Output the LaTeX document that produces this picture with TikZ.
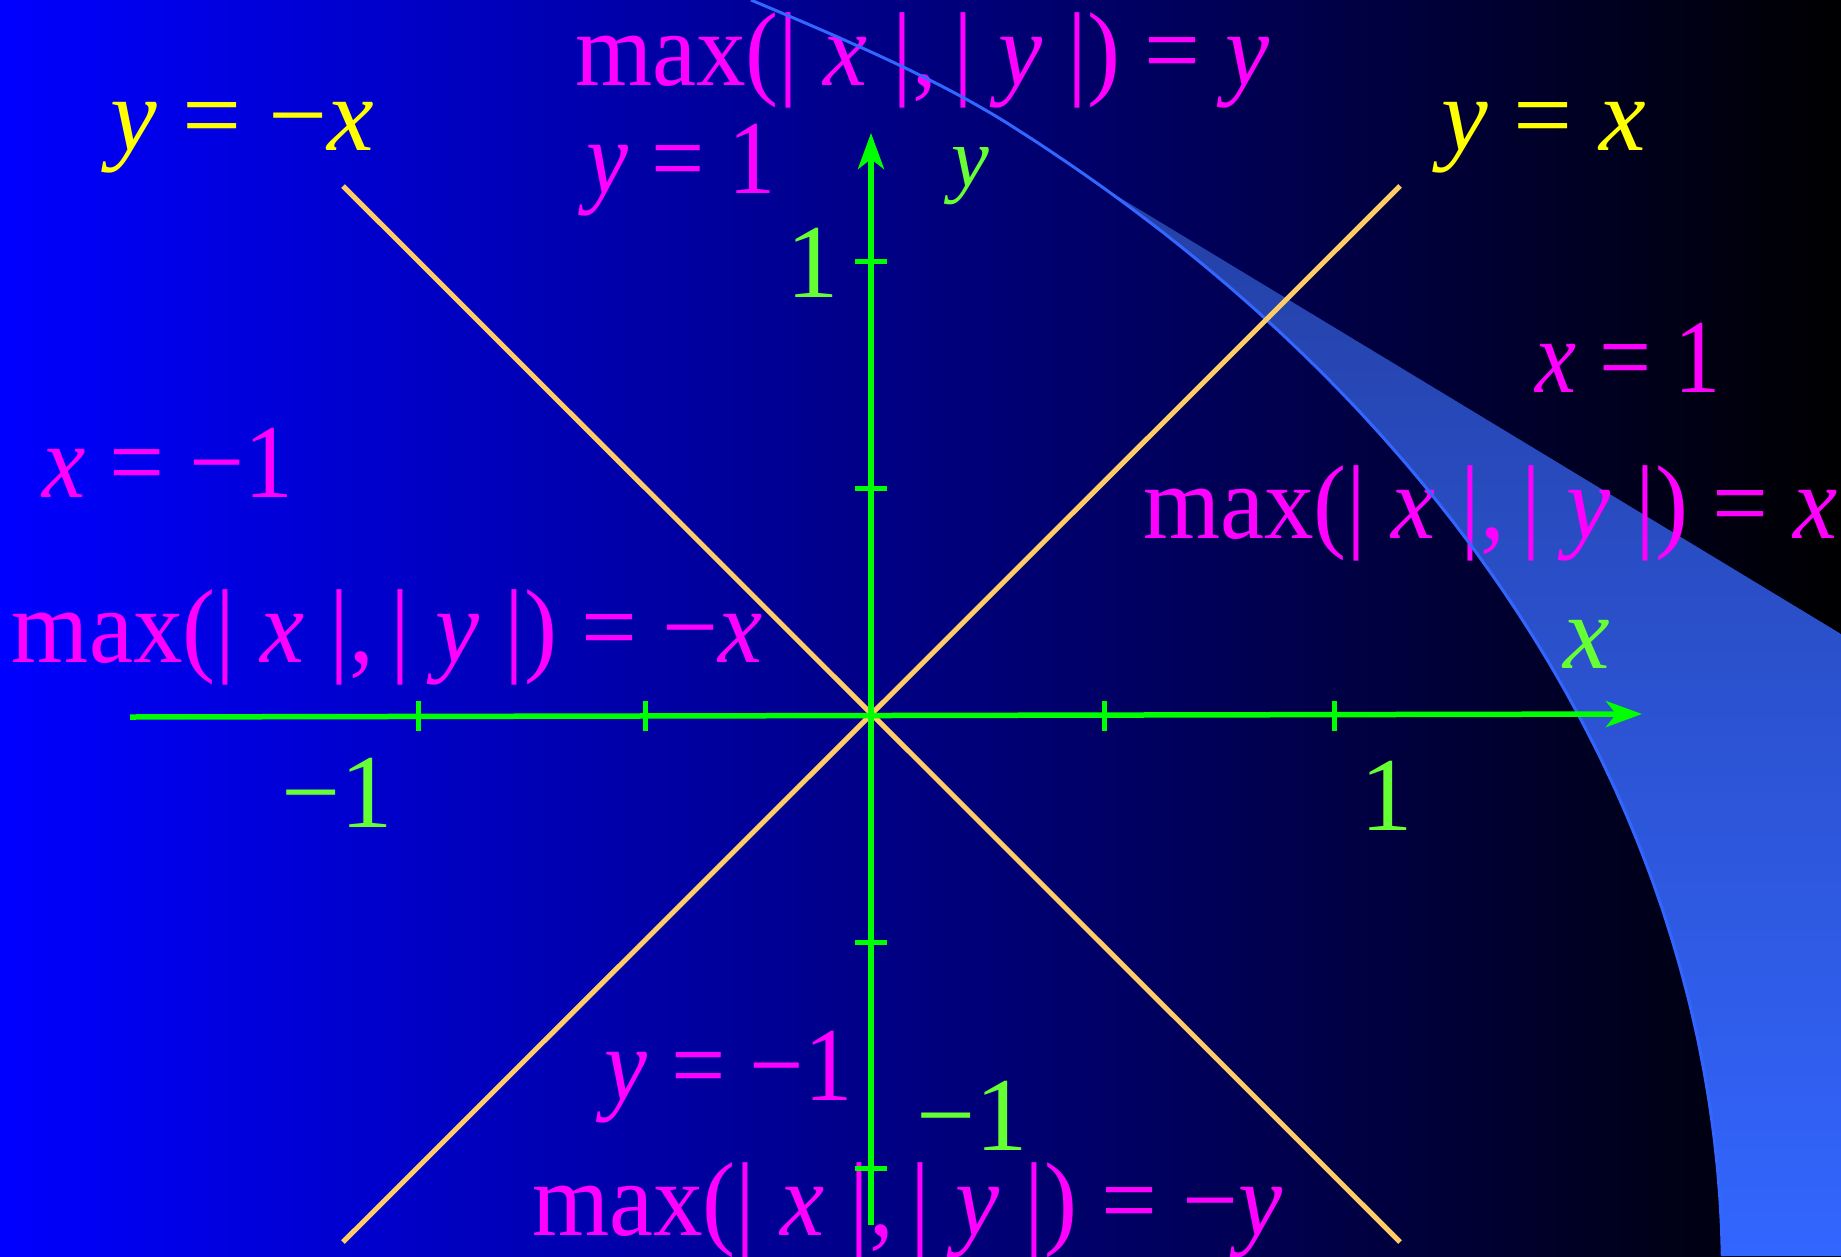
\documentclass[tikz,border=0pt]{standalone}
\usepackage{fontspec}
\setmainfont{Liberation Serif}
\usepackage{graphicx}
\usetikzlibrary{arrows.meta}
\definecolor{mag}{RGB}{255,0,255}
\definecolor{yel}{RGB}{255,255,0}
\definecolor{grl}{RGB}{102,255,51}
\definecolor{gra}{RGB}{0,255,0}
\definecolor{peach}{RGB}{255,204,102}
\definecolor{bgblue}{RGB}{0,0,255}
\definecolor{bandtop}{RGB}{36,64,165}
\definecolor{bandbot}{RGB}{51,102,255}
\definecolor{edgeblue}{RGB}{51,102,255}
\newcommand{\VarX}{\textit{x}}
\newcommand{\VarY}{\textit{y}}
\newcommand{\MaxXY}{max(|\ \VarX\ |,\,|\ \VarY\ |)}
\newcommand{\Squeeze}[2]{\scalebox{#1}[1]{#2}}
\begin{document}
\begin{tikzpicture}[x=1pt,y=-1pt,
  lab/.style={inner sep=0pt,outer sep=0pt,anchor=base west,font=\fontsize{105}{110}\selectfont},
  axisline/.style={draw=gra,line width=5.5pt},
  tickmark/.style={draw=gra,line width=5pt},
  diagline/.style={draw=peach,line width=5pt},
  edgeline/.style={draw=edgeblue,line width=3pt},
  tip/.style={-{Stealth[length=36pt,width=26pt,inset=10pt]}}]
\useasboundingbox (0,0) rectangle (1841,1256);
\shade[left color=bgblue,right color=black] (0,0) rectangle (1841,1256);
% band (elliptic inner edge, straight outer edge)
\shade[top color=bandtop,bottom color=bandbot]
  plot[domain=0.724:46.38,samples=80,smooth] ({-277.5+2000*cos(\x)},{1275-1503*sin(\x)})
  -- (1841,634) -- (1841,1256) -- cycle;
% labels
\node[lab,text=mag] (tmax) at (575,85) {\Squeeze{0.945}{\MaxXY\ =\ \VarY}};
\node[lab,text=mag] (yone) at (586,193) {\Squeeze{0.9}{\VarY\ =\ 1}};
\node[lab,text=yel] (ymx) at (110,150) {\VarY\ =\ −\VarX};
\node[lab,text=mag] (xmone) at (42,497) {\Squeeze{0.93}{\VarX\ =\ −1}};
\node[lab,text=mag] (lmax) at (12,662) {\Squeeze{0.945}{\MaxXY\ =\ −\VarX}};
\node[lab,text=grl] (xtm) at (281,827) {−1};
\node[lab,text=grl] (ytp) at (786,297) {1};
\node[lab,text=grl] (xtp) at (1360,830) {1};
\node[lab,text=grl] (ytm) at (916,1150) {−1};
\node[lab,text=mag] (ymone) at (604,1100) {\Squeeze{0.92}{\VarY\ =\ −1}};
\node[lab,text=mag] (bmax) at (532,1235) {\Squeeze{0.945}{\MaxXY\ =\ −\VarY}};
\node[lab,text=yel] (yx) at (1441,150) {\VarY\ =\ \VarX};
\node[lab,text=mag] (xone) at (1535,392) {\Squeeze{0.88}{\VarX\ =\ 1}};
\node[lab,text=mag] (rmax) at (1143,538) {\Squeeze{0.945}{\MaxXY\ =\ \VarX}};
\node[lab,text=grl] (xname) at (1563,668) {\VarX};
\node[lab,text=grl,font=\fontsize{85}{90}\selectfont] (yname) at (951,186) {\VarY};
% curve edge
\coordinate (ctop) at (751,0);
\draw[edgeline] plot[domain=0.724:50,samples=90,smooth] ({-277.5+2000*cos(\x)},{1275-1503*sin(\x)})
  .. controls (932,76) and (834,35) .. (ctop);
% diagonals
\coordinate (d1) at (343,186);
\coordinate (d2) at (1400,1242);
\coordinate (d3) at (1400,186);
\coordinate (d4) at (343,1242);
\draw[diagline] (d1) -- (d2);
\draw[diagline] (d3) -- (d4);
% axes
\coordinate (xl) at (130,717);
\coordinate (xr) at (1642,714);
\coordinate (yb) at (871,1225);
\coordinate (yt) at (871,133);
\draw[axisline,tip] (xl) -- (xr);
\draw[axisline,tip] (yb) -- (yt);
\foreach \t in {418,645,1104,1334} \draw[tickmark] (\t,701) -- (\t,731);
\foreach \t in {261,488,942,1168} \draw[tickmark] (855,\t) -- (887,\t);
\end{tikzpicture}
\end{document}
